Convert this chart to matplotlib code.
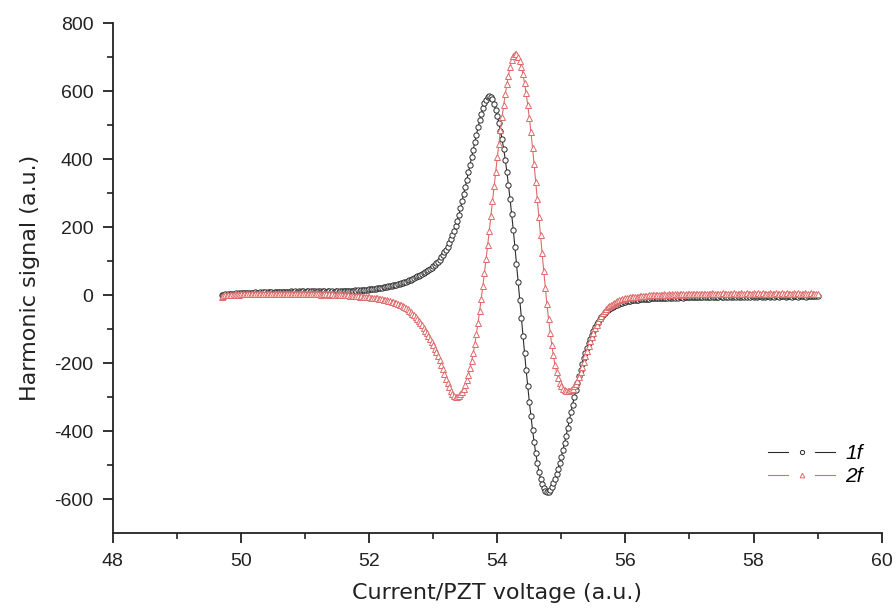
import numpy as np
import matplotlib
matplotlib.use("Agg")
import matplotlib.pyplot as plt
from matplotlib.lines import Line2D
from matplotlib.legend_handler import HandlerBase

# ---------------- data ----------------
x_start = 49.70
x_step = 0.025

signal_1f = [
    # 49.700 - 51.975
    0, 1, 2, 1, 3, 2, 4, 3, 4, 5,
    4, 5, 6, 5, 6, 7, 6, 5, 7, 6,
    7, 8, 7, 6, 8, 7, 8, 9, 7, 8,
    9, 8, 7, 9, 8, 10, 9, 8, 10, 9,
    8, 10, 9, 11, 10, 9, 11, 10, 12, 10,
    11, 12, 10, 11, 12, 10, 11, 12, 11, 10,
    12, 11, 10, 12, 11, 10, 11, 12, 10, 11,
    10, 12, 11, 10, 12, 11, 12, 11, 13, 12,
    12, 13, 12, 14, 13, 14, 13, 15, 14, 15,
    16, 16,
    # 52.000 - 56.475
    17, 17, 18, 19, 19, 20, 21, 21, 22, 23,
    24, 25, 26, 27, 28, 29, 30, 31, 33, 34,
    36, 37, 39, 40, 42, 44, 46, 48, 50, 52,
    55, 57, 60, 63, 66, 69, 72, 75, 78, 81,
    85, 89, 94, 99, 104, 111, 118, 126, 134, 143,
    153, 164, 176, 189, 203, 218, 236, 255, 276, 297,
    318, 340, 362, 384, 406, 428, 450, 472, 494, 514,
    533, 550, 564, 575, 582, 586, 584, 576, 563, 546,
    527, 506, 483, 458, 430, 398, 362, 323, 282, 238,
    192, 143, 92, 40, -13, -66, -119, -170, -220, -268,
    -313, -356, -396, -432, -465, -494, -519, -540, -556, -568,
    -576, -580, -580, -574, -565, -553, -540, -526, -510, -493,
    -475, -456, -435, -413, -390, -368, -345, -322, -300, -279,
    -258, -239, -220, -202, -185, -170, -155, -141, -128, -116,
    -105, -95, -86, -78, -70, -64, -58, -53, -48, -44,
    -40, -37, -34, -32, -30, -28, -26, -24, -22, -21,
    -19, -18, -17, -16, -15, -15, -14, -13, -13, -12,
    -12, -11, -11, -10, -10, -10, -9, -9, -9, -8,
    # 56.500 - 59.000
    -8, -9, -8, -7, -8, -7, -8, -6, -7, -8,
    -6, -7, -6, -7, -5, -6, -7, -5, -6, -5,
    -6, -4, -5, -6, -4, -5, -6, -4, -5, -3,
    -5, -4, -6, -4, -3, -5, -4, -6, -4, -3,
    -5, -4, -3, -5, -4, -2, -4, -5, -3, -4,
    -3, -5, -4, -2, -4, -3, -5, -3, -4, -2,
    -4, -3, -5, -3, -2, -4, -3, -4, -2, -3,
    -4, -2, -3, -4, -3, -2, -4, -3, -2, -3,
    -4, -2, -3, -2, -4, -3, -2, -3, -4, -2,
    -3, -2, -3, -4, -2, -3, -2, -3, -2, -3,
    -3,
]

signal_2f = [
    # 49.700 - 51.975
    -6, -3, -1, 0, 0, 1, 0, 1, 2, 1,
    2, 1, 2, 3, 2, 3, 2, 3, 4, 3,
    2, 3, 4, 3, 2, 4, 3, 4, 3, 2,
    3, 4, 3, 4, 2, 3, 4, 3, 4, 3,
    4, 3, 2, 4, 3, 4, 3, 4, 3, 2,
    3, 4, 3, 2, 3, 4, 3, 2, 3, 2,
    3, 2, 1, 2, 3, 2, 1, 2, 1, 2,
    1, 0, 1, 2, 0, 1, 0, -1, 0, -1,
    -2, -1, -2, -3, -2, -3, -4, -3, -4, -5,
    -5, -6,
    # 52.000 - 56.475
    -6, -7, -7, -8, -9, -9, -10, -11, -12, -13,
    -14, -15, -16, -17, -19, -20, -22, -24, -26, -28,
    -30, -33, -36, -39, -42, -46, -50, -54, -59, -64,
    -70, -76, -82, -89, -96, -104, -112, -120, -129, -138,
    -147, -157, -168, -180, -192, -205, -218, -232, -246, -259,
    -271, -282, -291, -297, -300, -299, -296, -291, -284, -275,
    -264, -250, -234, -215, -194, -170, -143, -113, -81, -46,
    -10, 27, 66, 106, 147, 189, 232, 276, 320, 363,
    405, 446, 486, 524, 559, 591, 620, 646, 672, 692,
    704, 710, 708, 700, 688, 671, 650, 624, 594, 560,
    522, 481, 434, 385, 334, 282, 229, 176, 123, 71,
    21, -26, -70, -110, -146, -177, -204, -226, -244, -258,
    -268, -275, -279, -281, -282, -281, -279, -275, -268, -262,
    -252, -240, -226, -211, -196, -180, -165, -150, -136, -122,
    -110, -98, -87, -77, -68, -60, -53, -47, -41, -36,
    -32, -28, -25, -22, -19, -17, -15, -13, -12, -10,
    -9, -8, -7, -6, -6, -5, -5, -4, -4, -3,
    -3, -3, -2, -2, -2, -1, -1, -1, 0, 0,
    # 56.500 - 59.000
    0, 1, 0, 1, 2, 1, 0, 2, 1, 2,
    1, 2, 3, 1, 2, 3, 2, 1, 3, 2,
    3, 2, 4, 3, 2, 3, 4, 2, 3, 4,
    3, 2, 4, 3, 5, 3, 4, 3, 2, 4,
    3, 5, 4, 3, 4, 2, 4, 3, 5, 4,
    3, 4, 5, 3, 4, 3, 5, 4, 3, 4,
    5, 3, 4, 5, 4, 3, 5, 4, 3, 4,
    5, 4, 3, 4, 5, 3, 4, 4, 5, 3,
    4, 5, 4, 3, 4, 5, 4, 3, 5, 4,
    4, 3, 5, 4, 3, 4, 5, 4, 3, 4,
    2,
]

series_labels = ["1f", "2f"]
x_ticks = [48, 50, 52, 54, 56, 58, 60]
y_ticks = [-600, -400, -200, 0, 200, 400, 600, 800]
x_label = "Current/PZT voltage (a.u.)"
y_label = "Harmonic signal (a.u.)"

# ---------------- plot ----------------
plt.rcParams['font.family'] = ['Liberation Sans', 'DejaVu Sans']
plt.rcParams['axes.unicode_minus'] = False


class GapLineHandler(HandlerBase):
    """Legend key: line - marker - line, with gaps around the marker."""
    def create_artists(self, legend, orig, xdescent, ydescent, width, height,
                       fontsize, trans):
        y = height / 2 - ydescent
        x0 = -xdescent
        x1 = x0 + width
        xm = (x0 + x1) / 2
        g = width * 0.2
        kw = dict(color=orig.get_color(), lw=orig.get_linewidth())
        l1 = Line2D([x0, xm - g], [y, y], **kw)
        l2 = Line2D([xm + g, x1], [y, y], **kw)
        m = Line2D([xm], [y], ls='none', marker=orig.get_marker(),
                   markersize=orig.get_markersize() * 0.8,
                   markerfacecolor='white',
                   markeredgecolor=orig.get_markeredgecolor(),
                   markeredgewidth=orig.get_markeredgewidth())
        for a in (l1, l2, m):
            a.set_transform(trans)
        return [l1, l2, m]


x = np.round(x_start + x_step * np.arange(len(signal_1f)), 3)

fig = plt.figure(figsize=(8.96, 6.10), dpi=100)
ax = fig.add_axes([0.126, 0.126, 0.858, 0.836])

black = '#2b2b2b'
red = '#e06a6a'

h1, = ax.plot(x, signal_1f, color=black, lw=0.8, marker='o', markersize=3.8,
              markerfacecolor='white', markeredgecolor=black, markeredgewidth=0.7,
              label=series_labels[0])
h2, = ax.plot(x, signal_2f, color=red, lw=0.8, marker='^', markersize=4.2,
              markerfacecolor='white', markeredgecolor=red, markeredgewidth=0.7,
              label=series_labels[1])

ax.set_xlim(48, 60)
ax.set_ylim(-700, 800)
ax.set_xticks(x_ticks)
ax.set_yticks(y_ticks)
ax.set_xticks(np.arange(49, 60, 2), minor=True)
ax.set_yticks(np.arange(-500, 800, 200), minor=True)

for s in ['top', 'right']:
    ax.spines[s].set_visible(False)
for s in ['left', 'bottom']:
    ax.spines[s].set_linewidth(1.3)
    ax.spines[s].set_color('#222222')

ax.tick_params(axis='both', which='major', direction='out', length=7, width=1.3,
               labelsize=14, colors='#222222', pad=7)
ax.tick_params(axis='both', which='minor', direction='out', length=4, width=1.2,
               colors='#222222')

ax.set_xlabel(x_label, fontsize=16, color='#222222', labelpad=10,
              family=['DejaVu Sans'])
ax.set_ylabel(y_label, fontsize=16, color='#222222', labelpad=10,
              family=['DejaVu Sans'])

leg = ax.legend(handles=[h1, h2], loc='lower right', bbox_to_anchor=(1.0, 0.055),
                frameon=False, handlelength=3.2, fontsize=15, handletextpad=0.5,
                labelspacing=0.2,
                handler_map={Line2D: GapLineHandler()})
for t in leg.get_texts():
    t.set_fontstyle('italic')

fig.savefig('out.png', dpi=100, facecolor='white')
